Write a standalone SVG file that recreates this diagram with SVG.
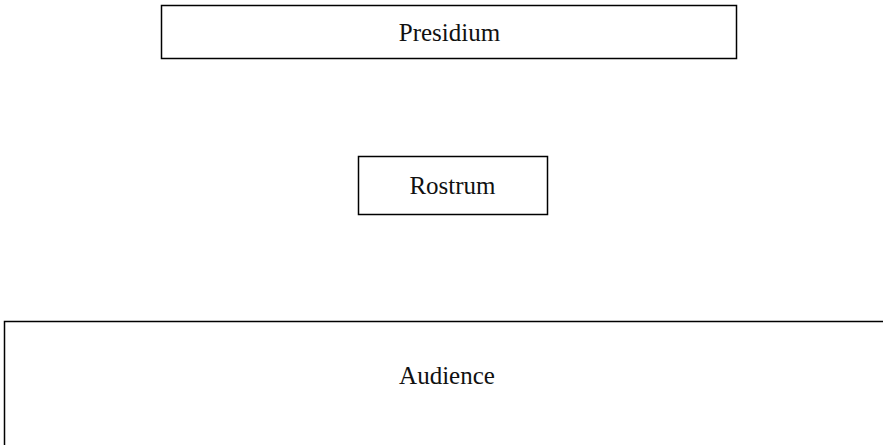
<svg xmlns="http://www.w3.org/2000/svg" width="883" height="445" viewBox="0 0 883 445">
<style>
.box{fill:#fff;stroke:#000;stroke-width:1.5}
.lbl{font-family:"Liberation Serif",serif;font-size:25px;fill:#111;text-anchor:middle}
</style>
<rect width="883" height="445" fill="#fff"/>
<g id="presidium">
<rect class="box" x="161.5" y="5.5" width="575" height="53"/>
<text class="lbl" x="449.5" y="41">Presidium</text>
</g>
<g id="rostrum">
<rect class="box" x="358.5" y="156.5" width="189" height="58"/>
<text class="lbl" x="452.5" y="194">Rostrum</text>
</g>
<g id="audience">
<rect class="box" x="4.5" y="321.5" width="890" height="140"/>
<text class="lbl" x="447" y="384">Audience</text>
</g>
<g id="connectors"></g>
</svg>
